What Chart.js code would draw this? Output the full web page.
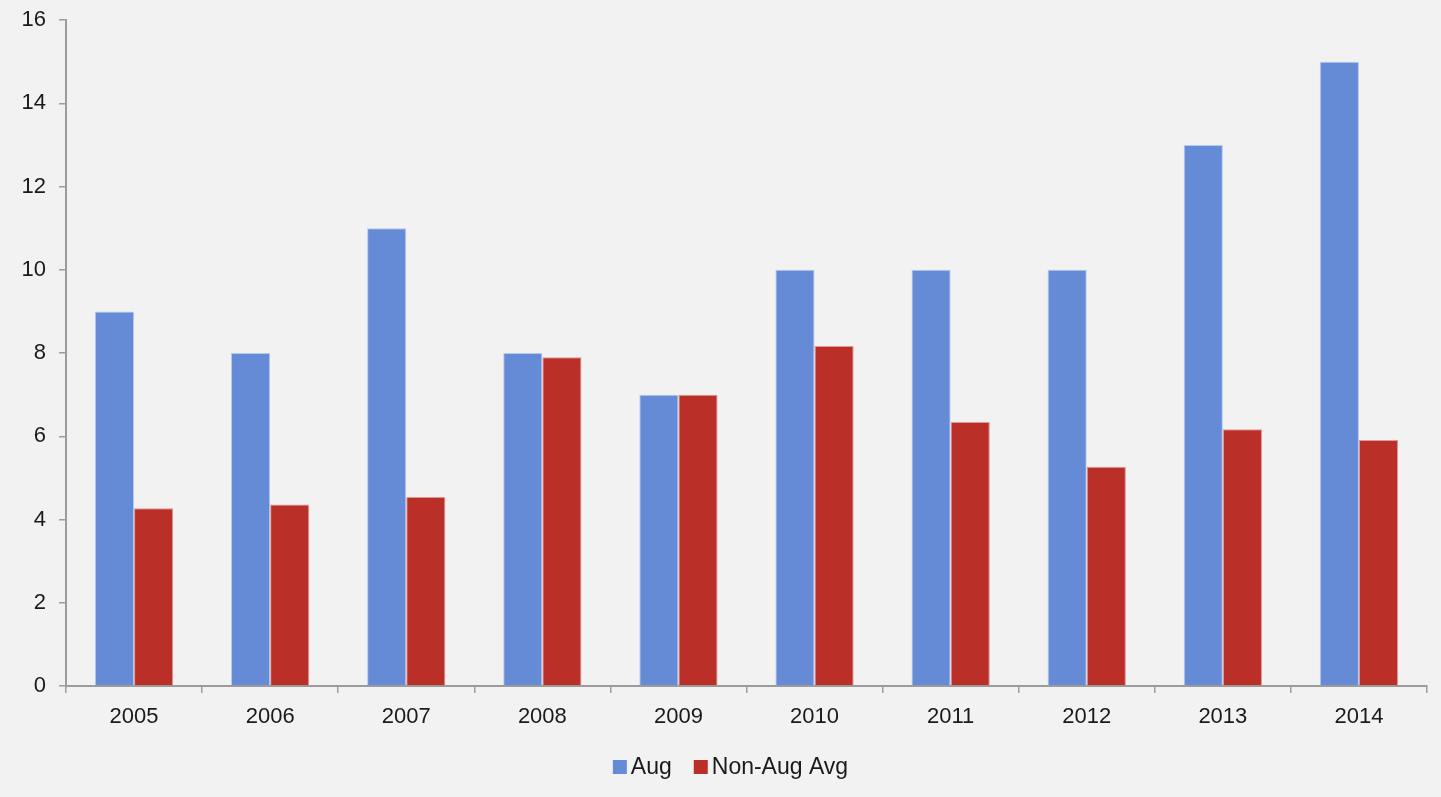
<!DOCTYPE html>
<html>
<head>
<meta charset="utf-8">
<script src="https://cdn.jsdelivr.net/npm/chart.js@4.4.0/dist/chart.umd.min.js"></script>
<style>
  html, body { margin: 0; padding: 0; background: #f2f2f2; }
  #wrap { width: 1441px; height: 797px; }
</style>
</head>
<body>
<div id="wrap"><canvas id="augChart"></canvas></div>
<script>
const years = ['2005', '2006', '2007', '2008', '2009', '2010', '2011', '2012', '2013', '2014'];
const augValues = [9, 8, 11, 8, 7, 10, 10, 10, 13, 15];
const nonAugAvg = [4.27, 4.36, 4.54, 7.9, 7.0, 8.17, 6.34, 5.27, 6.17, 5.91];

const axisGray = '#9c9c9c';
const fontFamily = '"Liberation Sans", Arial, sans-serif';

// paint the canvas background grey
const bgPlugin = {
  id: 'bg',
  beforeDraw(chart) {
    const ctx = chart.ctx;
    ctx.save();
    ctx.fillStyle = '#f2f2f2';
    ctx.fillRect(0, 0, chart.width, chart.height);
    ctx.restore();
  }
};

// compact legend: small square right next to its label
const compactLegend = {
  id: 'compactLegend',
  afterDraw(chart) {
    const ctx = chart.ctx;
    const box = 14, gap = 4, spacing = 22;
    const y = 767;
    ctx.save();
    ctx.font = '23px ' + fontFamily;
    ctx.textBaseline = 'middle';
    const items = chart.data.datasets.map(ds => ({
      label: ds.label,
      color: ds.backgroundColor,
      w: box + gap + ctx.measureText(ds.label).width
    }));
    const total = items.reduce((s, it) => s + it.w, 0) + spacing * (items.length - 1);
    // centred a little right of the canvas middle, under the plot
    let x = (chart.width - total) / 2 + 10;
    items.forEach(it => {
      ctx.fillStyle = it.color;
      ctx.fillRect(x, y - box / 2, box, box);
      ctx.fillStyle = '#1a1a1a';
      ctx.fillText(it.label, x + box + gap, y + 1);
      x += it.w + spacing;
    });
    ctx.restore();
  }
};

Chart.defaults.font.family = fontFamily;
Chart.defaults.color = '#1a1a1a';

new Chart(document.getElementById('augChart'), {
  type: 'bar',
  data: {
    labels: years,
    datasets: [
      {
        label: 'Aug',
        data: augValues,
        backgroundColor: '#658bd7',
        borderColor: 'rgba(170,195,240,0.9)',
        borderWidth: 1,
        categoryPercentage: 0.575,
        barPercentage: 1
      },
      {
        label: 'Non-Aug Avg',
        data: nonAugAvg,
        backgroundColor: '#ba2f27',
        borderColor: 'rgba(225,140,135,0.9)',
        borderWidth: 1,
        categoryPercentage: 0.575,
        barPercentage: 1
      }
    ]
  },
  options: {
    responsive: true,
    maintainAspectRatio: false,
    animation: false,
    layout: {
      padding: { top: 20, right: 14, left: 0, bottom: 61 }
    },
    plugins: {
      tooltip: { enabled: false },
      legend: { display: false }
    },
    scales: {
      x: {
        afterFit(scale) { scale.height = 50; },
        grid: {
          drawOnChartArea: false,
          drawTicks: true,
          tickLength: 7,
          color: axisGray,
          lineWidth: 1.5
        },
        border: { color: axisGray, width: 2 },
        ticks: { padding: 11, font: { size: 22 } }
      },
      y: {
        min: 0,
        max: 16,
        afterFit(scale) { scale.width = 66; },
        grid: {
          drawOnChartArea: false,
          drawTicks: true,
          tickLength: 7,
          color: axisGray,
          lineWidth: 1.5
        },
        border: { color: axisGray, width: 2 },
        ticks: { stepSize: 2, padding: 13, font: { size: 22, lineHeight: 0.6 } }
      }
    }
  },
  plugins: [bgPlugin, compactLegend]
});
</script>
</body>
</html>
